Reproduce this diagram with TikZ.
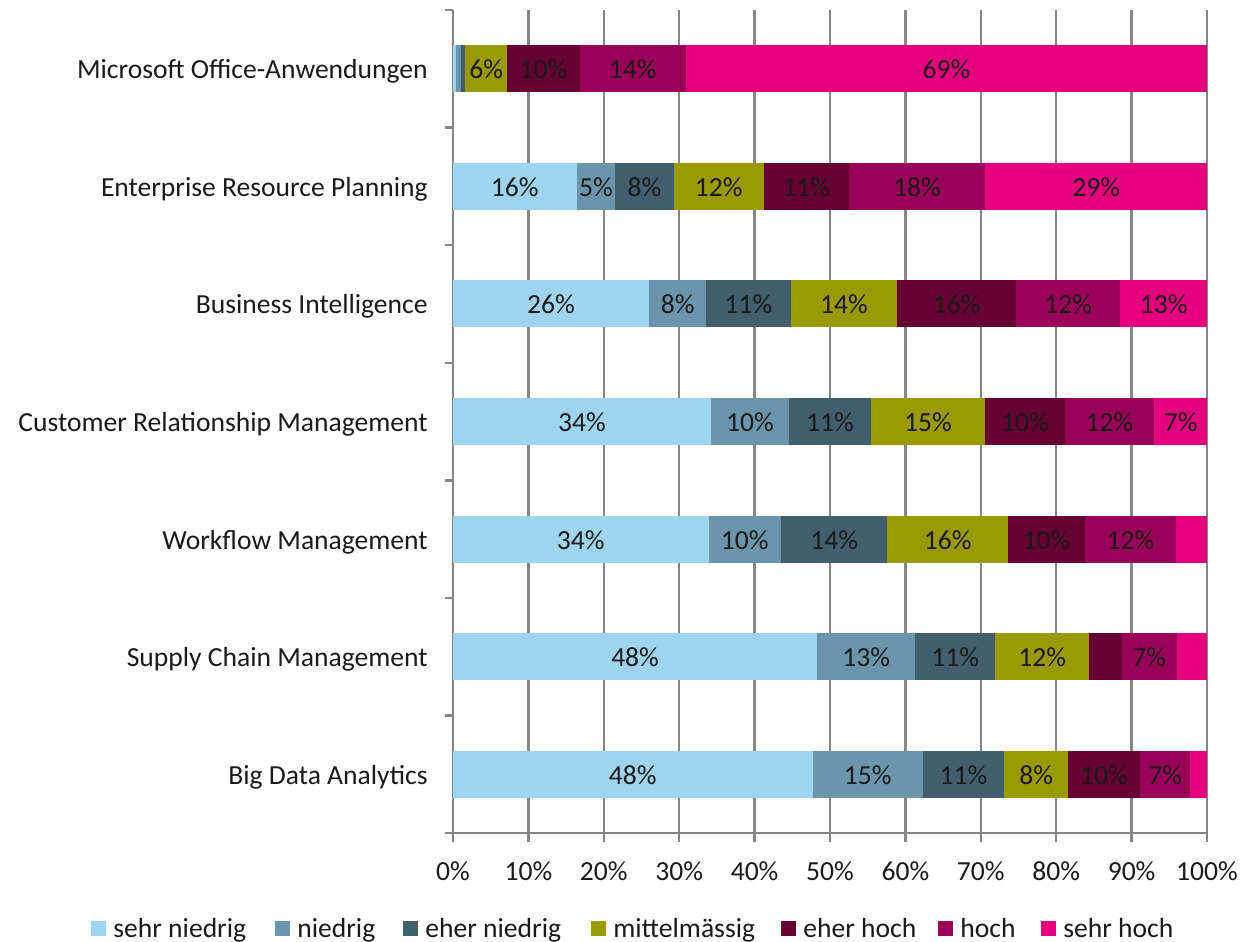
\documentclass[tikz,border=0pt]{standalone}
\usepackage{fontspec}
\setmainfont{Carlito}
\definecolor{sn}{RGB}{157,213,240}
\definecolor{ni}{RGB}{106,149,170}
\definecolor{en}{RGB}{66,95,110}
\definecolor{mi}{RGB}{153,153,0}
\definecolor{eh}{RGB}{102,0,51}
\definecolor{ho}{RGB}{153,0,87}
\definecolor{sh}{RGB}{230,0,126}
\definecolor{axisgray}{RGB}{134,134,134}
\definecolor{txt}{RGB}{26,26,26}
\begin{document}
\begin{tikzpicture}[x=0.02cm, y=-0.02cm,
	every node/.style={font=\fontsize{15.7}{19}\selectfont, text=txt, inner sep=0pt},
	grid/.style={draw=axisgray, line width=1.3pt}]
	\useasboundingbox (0,0) rectangle (1242,942);
	% grid and axes
	\foreach \i in {1,...,10}
	\draw[grid] ({453+75.4*\i},10) -- ({453+75.4*\i},842);
	\draw[grid] (453,10) -- (453,842);
	\draw[grid] (445,833) -- (1207,833);
	\foreach \j in {0,...,7}
	\draw[grid] (445,{10+117.6*\j}) -- (453,{10+117.6*\j});
	\foreach \i in {0,...,10}{
		\pgfmathtruncatemacro{\p}{10*\i}
		\node[anchor=base] (tick\i) at ({453+75.4*\i},880) {\p\%};
	}
	% bars
	\foreach \r/\cat/\data in {
		1/Microsoft Office-Anwendungen/{0.4/sn/,1.1/ni/,1.6/en/,7.2/mi/6\%,16.8/eh/10\%,30.9/ho/14\%,100/sh/69\%},
		2/Enterprise Resource Planning/{16.4/sn/16\%,21.5/ni/5\%,29.3/en/8\%,41.2/mi/12\%,52.5/eh/11\%,70.6/ho/18\%,100/sh/29\%},
		3/Business Intelligence/{26.0/sn/26\%,33.6/ni/8\%,44.8/en/11\%,58.9/mi/14\%,74.7/eh/16\%,88.5/ho/12\%,100/sh/13\%},
		4/Customer Relationship Management/{34.2/sn/34\%,44.6/ni/10\%,55.4/en/11\%,70.6/mi/15\%,81.1/eh/10\%,93.0/ho/12\%,100/sh/7\%},
		5/Workflow Management/{33.9/sn/34\%,43.5/ni/10\%,57.6/en/14\%,73.6/mi/16\%,83.8/eh/10\%,95.9/ho/12\%,100/sh/},
		6/Supply Chain Management/{48.3/sn/48\%,61.3/ni/13\%,71.9/en/11\%,84.4/mi/12\%,88.7/eh/,96.0/ho/7\%,100/sh/},
		7/Big Data Analytics/{47.7/sn/48\%,62.3/ni/15\%,73.1/en/11\%,81.6/mi/8\%,91.1/eh/10\%,97.8/ho/7\%,100/sh/}}
	{
		\pgfmathsetmacro{\yc}{68.8+117.6*(\r-1)}
		\node[anchor=base east] (cat\r) at (428,{\yc+10}) {\cat};
		\foreach \e/\c/\l [remember=\e as \s (initially 0), count=\k] in \data {
			\fill[\c] ({453+7.54*\s},{\yc-23.5}) rectangle ({453+7.54*\e},{\yc+23.5});
			\node[anchor=base] (val\r-\k) at ({453+7.54*(\s+\e)/2},{\yc+10}) {\l};
		}
	}
	% legend
	\foreach \x/\c/\t in {91/sn/sehr niedrig,275/ni/niedrig,403/en/eher niedrig,591/mi/mittelmässig,781/eh/eher hoch,938/ho/hoch,1041/sh/sehr hoch}{
		\fill[\c] (\x,921) rectangle ++(15,15);
		\node[anchor=base west] (leg\c) at (\x+22,937) {\t};
	}
\end{tikzpicture}
\end{document}
